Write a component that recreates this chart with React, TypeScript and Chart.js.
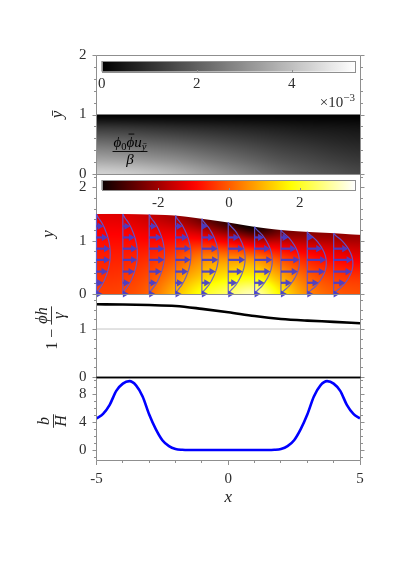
import React, { useEffect, useRef } from 'react';
import { Chart, registerables } from 'chart.js';

Chart.register(...registerables);

// ================= DATA =================
const X_MIN = -5;
const X_MAX = 5;
const X_TICKS = [-5, 0, 5];

// field grids: columns at GRID_X, rows at GRID_S (fraction of local height)
const GRID_X = [-5, -4, -3, -2, -1, 0, 1, 2, 3, 4, 5];
const GRID_S = [0, 0.25, 0.5, 0.75, 1];

// Panel 1: phi0 phibar u_ybar / beta  (x 1e-3), rows ybar = 0 .. 1
const P1_Y_TICKS = [0, 1, 2];
const FLUX_GRID = [
  [4.4, 3.4, 2.4, 1.3, 0],
  [4.3, 3.3, 2.3, 1.25, 0],
  [4.1, 3.1, 2.15, 1.15, 0],
  [3.8, 2.9, 2.0, 1.05, 0],
  [3.4, 2.6, 1.8, 0.95, 0],
  [3.0, 2.3, 1.6, 0.85, 0],
  [2.6, 2.0, 1.4, 0.75, 0],
  [2.2, 1.7, 1.2, 0.65, 0],
  [1.9, 1.5, 1.05, 0.55, 0],
  [1.7, 1.3, 0.9, 0.5, 0],
  [1.5, 1.15, 0.8, 0.45, 0],
];
const FLUX_MIN = 0;
const FLUX_MAX = 5.33;
const FLUX_CBAR_TICKS = [0, 2, 4];

// Panel 2: channel height h(x), field inside, velocity profiles
const P2_Y_TICKS = [0, 1, 2];
const H_VALUES = [1.5, 1.5, 1.49, 1.47, 1.41, 1.34, 1.26, 1.2, 1.165, 1.14, 1.11];
const P_GRID = [
  [-0.3, -0.5, -0.7, -1.0, -1.3],
  [-0.25, -0.45, -0.7, -1.0, -1.35],
  [0.1, -0.2, -0.6, -1.1, -1.6],
  [1.0, 0.4, -0.3, -1.1, -2.0],
  [1.9, 1.1, 0.3, -1.1, -2.6],
  [2.5, 1.5, 0.5, -1.2, -3.2],
  [3.0, 1.7, 0.6, -1.3, -3.6],
  [1.6, 0.9, 0.0, -1.2, -2.6],
  [0.5, 0.1, -0.5, -1.3, -2.3],
  [0.0, -0.3, -0.8, -1.4, -2.2],
  [-0.15, -0.4, -0.9, -1.5, -2.1],
];
const P_MIN = -3.6;
const P_MAX = 3.56;
const P_CBAR_TICKS = [-2, 0, 2];
const PROFILE_X = [-5, -4, -3, -2, -1, 0, 1, 2, 3, 4];
const PROFILE_UMAX = [0.52, 0.55, 0.58, 0.58, 0.62, 0.64, 0.67, 0.7, 0.72, 0.73];
const PROFILE_S = [0, 0.125, 0.25, 0.375, 0.5, 0.625, 0.75, 0.875, 1];
const PROFILE_SHAPE = [0, 0.44, 0.75, 0.94, 1, 0.94, 0.75, 0.44, 0];
const ARROW_Y = [0, 0.21, 0.42, 0.64, 0.85, 1.06, 1.27];

// Panel 3: 1 - phi h / gamma
const P3_Y_TICKS = [0, 1];
const GAP_VALUES = [1.515, 1.51, 1.5, 1.48, 1.42, 1.35, 1.27, 1.21, 1.175, 1.15, 1.12];
const GAP_REF = 1;

// Panel 4: b / H
const P4_Y_TICKS = [0, 4, 8];
const B_X = [
  -5, -4.75, -4.5, -4.25, -4, -3.75, -3.5, -3.25, -3, -2.75, -2.5, -2.25, -2, -1.75, -1.5, -1.25, -1, -0.75, -0.5, -0.25,
  0, 0.25, 0.5, 0.75, 1, 1.25, 1.5, 1.75, 2, 2.25, 2.5, 2.75, 3, 3.25, 3.5, 3.75, 4, 4.25, 4.5, 4.75, 5,
];
const B_VALUES = [
  4.55, 5.2, 6.5, 8.5, 9.55, 9.9, 9.3, 7.7, 5.1, 3.0, 1.4, 0.55, 0.15, 0.03, 0, 0, 0, 0, 0, 0,
  0, 0, 0, 0, 0, 0, 0, 0.03, 0.15, 0.55, 1.4, 3.0, 5.1, 7.7, 9.3, 9.9, 9.55, 8.5, 6.5, 5.2, 4.55,
];

// ================= LAYOUT / STYLE =================
const W = 399;
const AREA_LEFT = 96.5;
const AREA_RIGHT = 360;
const PAD = 20;
const X_AXIS_H = 50;
const FONT = "'Liberation Serif', 'DejaVu Serif', serif";
const TICK_COLOR = '#2e2e2e';
const FRAME = '#8f8f8f';
const ARROW_COLOR = 'rgba(66,62,206,0.92)';
const PROFILE_LINE = 'rgba(92,88,214,0.9)';
const HEAD_L = 6;
const HEAD_W = 3.6;

const PANELS = [
  { top: 55, bottom: 174, yMin: 0, yMax: 2 },
  { top: 174, bottom: 294, yMin: 0, yMax: 2.25 },
  { top: 294, bottom: 377, yMin: 0, yMax: 1.73 },
  { top: 377, bottom: 460, yMin: -1.44, yMax: 10.5 },
];
// page y -> canvas y for panel i
const cy = (i: number, pageY: number) => pageY - (PANELS[i].top - PAD);

// ================= HELPERS =================
const clamp01 = (v: number) => Math.min(1, Math.max(0, v));

function catmull(xs: number[], ys: number[], xv: number) {
  const n = xs.length;
  if (xv <= xs[0]) return ys[0];
  if (xv >= xs[n - 1]) return ys[n - 1];
  let i = 0;
  while (i < n - 2 && xv > xs[i + 1]) i++;
  const t = (xv - xs[i]) / (xs[i + 1] - xs[i]);
  const p0 = ys[Math.max(i - 1, 0)], p1 = ys[i], p2 = ys[i + 1], p3 = ys[Math.min(i + 2, n - 1)];
  const t2 = t * t, t3 = t2 * t;
  return 0.5 * (2 * p1 + (-p0 + p2) * t + (2 * p0 - 5 * p1 + 4 * p2 - p3) * t2 + (-p0 + 3 * p1 - 3 * p2 + p3) * t3);
}

function hot(f: number): [number, number, number] {
  f = clamp01(f);
  const a = 0.365079, b = 0.746032;
  const r = f < a ? 0.0416 + (1 - 0.0416) * (f / a) : 1;
  const g = f < a ? 0 : f < b ? (f - a) / (b - a) : 1;
  const bl = f < b ? 0 : (f - b) / (1 - b);
  return [r * 255, g * 255, bl * 255];
}

function gray(v: number): [number, number, number] {
  const g = clamp01((v - FLUX_MIN) / (FLUX_MAX - FLUX_MIN)) * 255;
  return [g, g, g];
}

const hotOf = (v: number) => hot((v - P_MIN) / (P_MAX - P_MIN));

function paintField(chart: any, grid: number[][], toRGB: (v: number) => [number, number, number], topFn: (x: number) => number) {
  const { ctx, chartArea: a } = chart;
  const xs = chart.scales.x, ys = chart.scales.y;
  const left = Math.round(a.left), right = Math.round(a.right);
  const top = Math.round(a.top), bottom = Math.round(ys.getPixelForValue(0));
  const w = right - left, h = bottom - top;
  const off = document.createElement('canvas');
  off.width = w;
  off.height = h;
  const octx = off.getContext('2d')!;
  const img = octx.createImageData(w, h);
  const rows = GRID_S.map((_, r) => grid.map((c) => c[r]));
  for (let i = 0; i < w; i++) {
    const xv = xs.getValueForPixel(left + i + 0.5);
    const col = rows.map((row) => catmull(GRID_X, row, xv));
    const hv = topFn(xv);
    const topPx = ys.getPixelForValue(hv);
    for (let j = 0; j < h; j++) {
      const py = top + j;
      const cov = clamp01(py + 1 - topPx);
      if (cov <= 0) continue;
      const yv = ys.getValueForPixel(py + 0.5);
      const s = clamp01(yv / hv);
      const [R, G, B] = toRGB(catmull(GRID_S, col, s));
      const k = (j * w + i) * 4;
      img.data[k] = R;
      img.data[k + 1] = G;
      img.data[k + 2] = B;
      img.data[k + 3] = cov * 255;
    }
  }
  octx.putImageData(img, 0, 0);
  ctx.drawImage(off, left, top);
}

function drawFrame(chart: any, minorStep: number, major: number[], o: { top?: string; bottom?: string; xTicks?: boolean }) {
  const { ctx, chartArea: a } = chart;
  const ys = chart.scales.y, xs = chart.scales.x;
  const L = Math.floor(a.left) + 0.5, R = Math.floor(a.right) + 0.5;
  const T = Math.round(a.top) + 0.5, B = Math.round(a.bottom) + 0.5;
  ctx.save();
  const line = (x1: number, y1: number, x2: number, y2: number, c: string, lw = 1) => {
    ctx.strokeStyle = c;
    ctx.lineWidth = lw;
    ctx.beginPath();
    ctx.moveTo(x1, y1);
    ctx.lineTo(x2, y2);
    ctx.stroke();
  };
  line(L, T, L, B, FRAME);
  line(R, T, R, B, FRAME);
  line(L, T, R, T, o.top || FRAME, o.top ? 1.5 : 1);
  line(L, B, R, B, o.bottom || FRAME, o.bottom ? 1.5 : 1);
  const k0 = Math.ceil(ys.min / minorStep - 1e-9), k1 = Math.floor(ys.max / minorStep + 1e-9);
  for (let k = k0; k <= k1; k++) {
    const v = k * minorStep;
    const isMajor = major.some((m) => Math.abs(m - v) < 1e-6);
    const py = Math.round(ys.getPixelForValue(v)) + 0.5;
    const len = isMajor ? 4 : 2.5;
    line(L - len, py, L, py, FRAME);
    line(R, py, R + len, py, FRAME);
  }
  if (o.xTicks) {
    for (let k = X_MIN; k <= X_MAX; k++) {
      const px = Math.floor(xs.getPixelForValue(k)) + 0.5;
      const len = X_TICKS.includes(k) ? 4.5 : 2.5;
      line(px, B, px, B + len, FRAME);
    }
  }
  ctx.restore();
}

type Run = { t: string; size?: number; italic?: boolean; dy?: number; over?: boolean };
const runFont = (r: Run) => `${r.italic ? 'italic ' : ''}${r.size ?? 16}px ${FONT}`;
function measureRuns(ctx: CanvasRenderingContext2D, runs: Run[]) {
  let w = 0;
  for (const r of runs) {
    ctx.font = runFont(r);
    w += ctx.measureText(r.t).width;
  }
  return w;
}
function drawRuns(ctx: CanvasRenderingContext2D, runs: Run[], x: number, y: number) {
  for (const r of runs) {
    ctx.font = runFont(r);
    const w = ctx.measureText(r.t).width;
    const yy = y + (r.dy ?? 0);
    ctx.fillText(r.t, x, yy);
    if (r.over) ctx.fillRect(x + 2, yy - (r.size ?? 16) * 0.86, w - 2, 0.9);
    x += w;
  }
  return x;
}
function drawFraction(ctx: CanvasRenderingContext2D, num: Run[], den: Run[], cx: number, barY: number, numGap: number, denGap: number) {
  const wn = measureRuns(ctx, num), wd = measureRuns(ctx, den);
  const w = Math.max(wn, wd) + 2;
  drawRuns(ctx, num, cx - wn / 2, barY - numGap);
  drawRuns(ctx, den, cx - wd / 2, barY + denGap);
  ctx.fillRect(cx - w / 2, barY - 0.45, w, 0.9);
  return w;
}
function rotated(ctx: CanvasRenderingContext2D, x: number, y: number, fn: (c: CanvasRenderingContext2D) => void) {
  ctx.save();
  ctx.translate(x, y);
  ctx.rotate(-Math.PI / 2);
  ctx.fillStyle = '#222';
  ctx.textAlign = 'left';
  ctx.textBaseline = 'alphabetic';
  fn(ctx);
  ctx.restore();
}

function drawColorbar(ctx: CanvasRenderingContext2D, left: number, right: number, top: number, bottom: number,
  colorAt: (f: number) => [number, number, number], min: number, max: number, ticks: number[], labelY: number) {
  const grad = ctx.createLinearGradient(left, 0, right, 0);
  for (let i = 0; i <= 40; i++) {
    const [r, g, b] = colorAt(i / 40);
    grad.addColorStop(i / 40, `rgb(${Math.round(r)},${Math.round(g)},${Math.round(b)})`);
  }
  ctx.save();
  ctx.fillStyle = grad;
  ctx.fillRect(left, top, right - left, bottom - top);
  ctx.strokeStyle = FRAME;
  ctx.lineWidth = 1;
  ctx.strokeRect(Math.round(left) + 0.5, Math.round(top) + 0.5, Math.round(right - left), Math.round(bottom - top));
  ctx.fillStyle = TICK_COLOR;
  ctx.font = `15px ${FONT}`;
  ctx.textAlign = 'center';
  ctx.textBaseline = 'middle';
  for (const v of ticks) {
    const px = left + ((v - min) / (max - min)) * (right - left);
    ctx.fillText(String(v), px, labelY);
    ctx.beginPath();
    ctx.moveTo(Math.round(px) + 0.5, Math.round(bottom) + 0.5);
    ctx.lineTo(Math.round(px) + 0.5, Math.round(bottom) - 2);
    ctx.stroke();
  }
  ctx.restore();
}

function drawProfiles(chart: any) {
  const { ctx } = chart;
  const xs = chart.scales.x, ys = chart.scales.y;
  ctx.save();
  PROFILE_X.forEach((xp, i) => {
    const hp = catmull(GRID_X, H_VALUES, xp);
    const um = PROFILE_UMAX[i];
    const x0 = xs.getPixelForValue(xp);
    ctx.strokeStyle = PROFILE_LINE;
    ctx.lineWidth = 1.2;
    ctx.beginPath();
    ctx.moveTo(x0, ys.getPixelForValue(0));
    ctx.lineTo(x0, ys.getPixelForValue(hp));
    ctx.stroke();
    ctx.beginPath();
    for (let k = 0; k <= 48; k++) {
      const s = k / 48;
      const u = um * catmull(PROFILE_S, PROFILE_SHAPE, s);
      const px = xs.getPixelForValue(xp + u), py = ys.getPixelForValue(s * hp);
      if (k === 0) ctx.moveTo(px, py);
      else ctx.lineTo(px, py);
    }
    ctx.stroke();
    for (const yv of ARROW_Y) {
      if (yv > hp - 0.1) continue;
      const s = yv / hp;
      const u = um * catmull(PROFILE_S, PROFILE_SHAPE, s);
      const tip = Math.max(xs.getPixelForValue(xp + u), x0 + HEAD_L);
      const py = ys.getPixelForValue(yv);
      ctx.strokeStyle = ARROW_COLOR;
      ctx.fillStyle = ARROW_COLOR;
      ctx.lineWidth = 2.2;
      if (tip - HEAD_L > x0) {
        ctx.beginPath();
        ctx.moveTo(x0, py);
        ctx.lineTo(tip - HEAD_L + 0.5, py);
        ctx.stroke();
      }
      ctx.beginPath();
      ctx.moveTo(tip, py);
      ctx.lineTo(tip - HEAD_L, py - HEAD_W);
      ctx.lineTo(tip - HEAD_L, py + HEAD_W);
      ctx.closePath();
      ctx.fill();
    }
  });
  ctx.restore();
}

// ================= CHART CONFIGS =================
const yAxis = (min: number, max: number, ticks: number[]) => ({
  type: 'linear',
  position: 'left',
  min,
  max,
  afterBuildTicks: (s: any) => {
    s.ticks = ticks.map((v) => ({ value: v }));
  },
  afterFit: (s: any) => {
    s.width = AREA_LEFT;
  },
  grid: { display: false, drawTicks: false },
  border: { display: false },
  ticks: { padding: 10, color: TICK_COLOR, font: { family: FONT, size: 15 }, callback: (v: any) => String(v) },
});

const hiddenX = { type: 'linear', min: X_MIN, max: X_MAX, display: false };

const shownX = {
  type: 'linear',
  position: 'bottom',
  min: X_MIN,
  max: X_MAX,
  afterBuildTicks: (s: any) => {
    s.ticks = X_TICKS.map((v) => ({ value: v }));
  },
  afterFit: (s: any) => {
    s.height = X_AXIS_H;
  },
  grid: { display: false, drawTicks: false },
  border: { display: false },
  ticks: { padding: 10, color: TICK_COLOR, font: { family: FONT, size: 15 }, maxRotation: 0, autoSkip: false, callback: (v: any) => String(v) },
  title: { display: true, text: 'x', color: '#222', font: { family: FONT, size: 17, style: 'italic' }, padding: { top: 0, bottom: 2 } },
};

function makeConfig(idx: number, datasets: any[], plugin: any, showX = false) {
  const p = PANELS[idx];
  return {
    type: 'line',
    data: { datasets },
    options: {
      animation: false,
      responsive: false,
      events: [],
      layout: { padding: { left: 0, right: W - AREA_RIGHT, top: PAD, bottom: showX ? 4 : PAD } },
      plugins: { legend: { display: false }, tooltip: { enabled: false }, title: { display: false } },
      elements: { point: { radius: 0 } },
      scales: { x: showX ? shownX : hiddenX, y: yAxis(p.yMin, p.yMax, [P1_Y_TICKS, P2_Y_TICKS, P3_Y_TICKS, P4_Y_TICKS][idx]) },
    },
    plugins: [plugin],
  } as any;
}

const hSmooth = (x: number) => catmull(GRID_X, H_VALUES, x);

const plugin1 = {
  id: 'p1',
  beforeDatasetsDraw(chart: any) {
    paintField(chart, FLUX_GRID, gray, () => 1);
  },
  afterDraw(chart: any) {
    const { ctx, chartArea: a } = chart;
    drawFrame(chart, 0.2, P1_Y_TICKS, {});
    const l = a.left + 5.2, r = a.right - 5;
    drawColorbar(ctx, l, r, a.top + 6, a.top + 16.5, (f) => gray(FLUX_MIN + f * (FLUX_MAX - FLUX_MIN)), FLUX_MIN, FLUX_MAX, FLUX_CBAR_TICKS, a.top + 29);
    ctx.save();
    ctx.fillStyle = TICK_COLOR;
    ctx.textAlign = 'left';
    ctx.textBaseline = 'alphabetic';
    const runs: Run[] = [{ t: '×10', size: 15 }, { t: '−3', size: 11, dy: -6 }];
    const w = measureRuns(ctx, runs);
    drawRuns(ctx, runs, r - w, a.top + 52);
    // label inside the map
    ctx.fillStyle = '#000';
    drawFraction(ctx,
      [{ t: 'ϕ', italic: true, size: 15 }, { t: '0', size: 10.5, dy: 3 }, { t: 'ϕ', italic: true, size: 15, over: true }, { t: 'u', italic: true, size: 15 }, { t: 'ȳ', italic: true, size: 10.5, dy: 3 }],
      [{ t: 'β', italic: true, size: 15 }], 130, cy(0, 151.5), 5, 12);
    ctx.restore();
    rotated(ctx, 58, cy(0, 114.5), (c) => {
      c.font = `italic 17px ${FONT}`;
      c.textAlign = 'center';
      c.fillText('ȳ', 0, 4);
    });
  },
};

const plugin2 = {
  id: 'p2',
  beforeDatasetsDraw(chart: any) {
    paintField(chart, P_GRID, hotOf, hSmooth);
  },
  afterDraw(chart: any) {
    const { ctx, chartArea: a } = chart;
    drawFrame(chart, 0.2, P2_Y_TICKS, {});
    drawProfiles(chart);
    drawColorbar(ctx, a.left + 5.2, a.right - 5, a.top + 6, a.top + 16, (f) => hot(f), P_MIN, P_MAX, P_CBAR_TICKS, a.top + 29);
    rotated(ctx, 51, cy(1, 234), (c) => {
      c.font = `italic 17px ${FONT}`;
      c.textAlign = 'center';
      c.fillText('y', 0, 2);
    });
  },
};

const plugin3 = {
  id: 'p3',
  afterDraw(chart: any) {
    const { ctx } = chart;
    drawFrame(chart, 0.2, P3_Y_TICKS, { bottom: '#000' });
    rotated(ctx, 57, cy(2, 328), (c) => {
      const first: Run[] = [{ t: '1 − ', size: 16 }];
      const num: Run[] = [{ t: 'ϕh', italic: true, size: 16 }];
      const den: Run[] = [{ t: 'γ', italic: true, size: 16 }];
      const w1 = measureRuns(c, first);
      const wf = Math.max(measureRuns(c, num), measureRuns(c, den)) + 2;
      const start = -(w1 + wf) / 2;
      drawRuns(c, first, start, 0);
      drawFraction(c, num, den, start + w1 + wf / 2, -5.5, 5, 12);
    });
  },
};

const plugin4 = {
  id: 'p4',
  afterDraw(chart: any) {
    const { ctx } = chart;
    drawFrame(chart, 1, P4_Y_TICKS, { top: '#000', xTicks: true });
    rotated(ctx, 59, cy(3, 421), (c) => {
      drawFraction(c, [{ t: 'b', italic: true, size: 16 }], [{ t: 'H', italic: true, size: 16 }], 0, -5.5, 5, 12.5);
    });
  },
};

function datasets3() {
  return [
    {
      data: GRID_X.map((x, i) => ({ x, y: GAP_VALUES[i] })),
      borderColor: '#000',
      borderWidth: 2.6,
      cubicInterpolationMode: 'monotone',
      pointRadius: 0,
      fill: false,
    },
    {
      data: [{ x: X_MIN, y: GAP_REF }, { x: X_MAX, y: GAP_REF }],
      borderColor: '#c6c6c6',
      borderWidth: 1,
      pointRadius: 0,
      fill: false,
    },
  ];
}

function datasets4() {
  return [
    {
      data: B_X.map((x, i) => ({ x, y: B_VALUES[i] })),
      borderColor: '#0000ff',
      borderWidth: 2.6,
      cubicInterpolationMode: 'monotone',
      pointRadius: 0,
      fill: false,
    },
  ];
}

export default function App() {
  const r1 = useRef<HTMLCanvasElement>(null);
  const r2 = useRef<HTMLCanvasElement>(null);
  const r3 = useRef<HTMLCanvasElement>(null);
  const r4 = useRef<HTMLCanvasElement>(null);

  useEffect(() => {
    const charts = [
      new Chart(r1.current!, makeConfig(0, [], plugin1)),
      new Chart(r2.current!, makeConfig(1, [], plugin2)),
      new Chart(r3.current!, makeConfig(2, datasets3(), plugin3)),
      new Chart(r4.current!, makeConfig(3, datasets4(), plugin4, true)),
    ];
    return () => charts.forEach((c) => c.destroy());
  }, []);

  const boxes = PANELS.map((p, i) => {
    const top = p.top - PAD;
    const height = i === 3 ? p.bottom + X_AXIS_H + 4 - top : p.bottom - p.top + 2 * PAD;
    return { top, height };
  });
  const refs = [r1, r2, r3, r4];

  return (
    <div style={{ position: 'absolute', left: 0, top: 0, width: W, height: 564, background: '#fff' }}>
      {boxes.map((b, i) => (
        <canvas
          key={i}
          ref={refs[i]}
          width={W}
          height={b.height}
          style={{ position: 'absolute', left: 0, top: b.top, width: W, height: b.height }}
        />
      ))}
    </div>
  );
}
